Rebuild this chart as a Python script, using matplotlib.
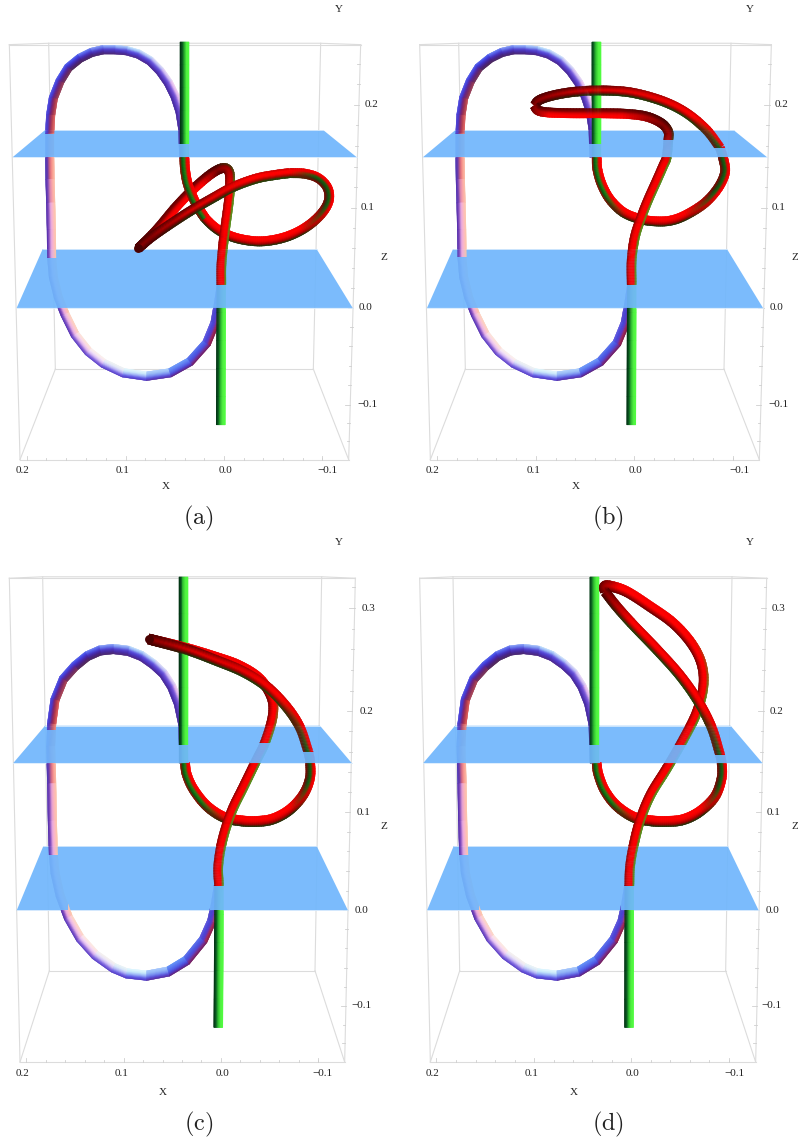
import numpy as np
import matplotlib
matplotlib.use('Agg')
import matplotlib.pyplot as plt
from matplotlib.collections import PolyCollection
from matplotlib.colors import to_rgb
from matplotlib.path import Path
from matplotlib.patches import Polygon

plt.rcParams['mathtext.fontset'] = 'cm'
plt.rcParams['font.family'] = ['Liberation Serif', 'DejaVu Serif']

# ---- traced curves, in the units of each panel's own axes ----
loop_ab_x = [551,548,540,525,505,480,450,415,380,345,310,275,240,205,180,160,152,149,149,150,152,154,155,160,175,195,225,265,310,370,440,510,570,620,645,655,664]
loop_ab_y = [465,380,330,285,245,210,180,160,150,147,147,155,172,200,240,290,340,395,460,530,600,680,763,820,880,930,990,1040,1075,1103,1113,1103,1070,1015,955,900,842]
loop_cd_x = [552,548,535,515,490,460,425,385,340,300,262,225,190,165,155,152,155,157,160,165,180,205,240,285,340,380,440,505,560,610,635,645,655]
loop_cd_y = [545,440,385,340,305,280,258,244,239,243,258,285,320,375,440,500,600,700,790,840,900,960,1015,1060,1095,1110,1116,1105,1075,1020,970,930,875]

a_bottom_x = [592,615,650,690,735,785,840,890,935,970,987,982,955,915,870]
a_bottom_y = [610,645,677,698,710,714,706,688,660,625,590,555,527,514,512]
a_return_x = [415,470,530,590,640,672,688,690,686,675,668,664,664]
a_return_y = [735,680,610,550,510,497,510,550,600,680,740,790,842]
a_descent_x = [553,555,562,575,592,615]
a_descent_y = [465,500,540,575,610,645]
a_arm_x = [870,830,770,700,640,570,500,450,415]
a_arm_y = [512,517,528,553,585,625,670,705,735]

b_bottom_x = [590,592,605,630,670,720,770,815,860,915,955,975,970,960]
b_bottom_y = [465,500,545,590,628,648,655,652,635,600,555,510,470,437]
b_arm_x = [960,920,860,790,700,620,540,470,420,403]
b_arm_y = [437,385,335,300,275,268,270,280,295,312]
b_return_x = [403,415,450,520,600,680,740,785,805,805,800,790,770,745,725,705,695,695]
b_return_y = [312,327,333,335,335,337,345,365,390,415,465,490,535,590,640,700,770,842]

c_bottom_x = [555,560,580,620,670,720,770,820,870,910,930,930,925]
c_bottom_y = [545,575,615,660,690,700,702,695,670,630,585,540,515]
c_arm_x = [925,900,860,800,730,650,560,450]
c_arm_y = [515,450,395,340,300,270,240,213]
c_return_x = [445,550,650,720,780,815,818,795,768,730,695,668,655,657]
c_return_y = [212,235,262,285,320,370,420,490,540,610,675,750,820,875]

d_bottom_x = [590,595,615,650,700,750,800,850,900,945,965,965,960]
d_bottom_y = [545,575,620,660,690,700,702,697,675,635,585,545,522]
d_arm_x = [960,935,895,840,770,700,650,615]
d_arm_y = [522,450,380,310,240,175,125,85]
d_return_x = [615,612,630,680,750,820,875,905,910,890,850,800,752,720,700,690,688]
d_return_y = [85,72,70,85,125,170,225,280,340,410,482,560,630,700,770,825,875]

ticks_ab_z = [-0.16,-0.1,0.0,0.1,0.2,0.26]
ticks_ab_y = [1360,1197,910,615,310,128]
ticks_cd_z = [-0.16,-0.1,0.0,0.1,0.2,0.3,0.33]
ticks_cd_y = [1348,1197,940,677,406,129,45]
tick_x_vals = [0.2,0.1,0.0,-0.1]
tick_x_ab = [80,377,672,967]
tick_x_cd = [78,372,662,955]

# ---- styles ----
BLUE = '#70B6FC'
GRID = '#dcdcdc'
LOOP_STYLE = [
 (0.00,['#f8d8f2','#d8b0f0','#7a58d8','#5a3cc0','#45289a']),
 (0.10,['#f8d8f2','#d8b0f0','#7a58d8','#5a3cc0','#45289a']),
 (0.18,['#d0f0ff','#98b8f8','#5a4fe0','#4a35c0','#50288a']),
 (0.27,['#5a6cf0','#4040e0','#4028b0','#45207a','#4a2a58']),
 (0.36,['#5048e0','#4838c8','#802068','#b03848','#e05858']),
 (0.43,['#4838b8','#6838a8','#d06078','#f89088','#fbb8a0']),
 (0.50,['#4a28a8','#8850c0','#e8a8e0','#fcb8c8','#fdc8a8']),
 (0.64,['#4a28a8','#8850c0','#e8a8e0','#fcb8c8','#fdc8a8']),
 (0.72,['#5a40c8','#9070e0','#e0c0f5','#f8e4f8','#fff0e8']),
 (0.80,['#4c34c0','#6060e8','#98b4f8','#c4e8fb','#e0f8ff']),
 (0.87,['#682068','#5036c0','#4858e8','#5070f0','#5888f8']),
 (0.93,['#801848','#a02858','#5c38c8','#4848d8','#6458e0']),
 (1.00,['#f07868','#e05868','#6838c0','#4040d0','#4838b0']),
]
DESC  = ['#a00000','#0a5a10','#1a8a15','#f00000','#ff0000']
BOT   = ['#0a3a0a','#a00000','#e80000','#ff0000','#f80000']
RIGHT = ['#ff0000','#e00000','#0a6a10','#283810','#800000']
TOP   = ['#c80000','#ff0000','#fa0000','#a00800','#0a4a0a']
ARM   = ['#5a0000','#a00000','#e80000','#8a0000','#0a3a0a']
TIP   = ['#4a0000','#680000','#880000','#680000','#400000']
RET   = ['#f80000','#ff0000','#e00000','#880000','#600000']
RETD  = ['#600000','#b00000','#ff0000','#ff0000','#f00000']
DOWN  = ['#880000','#e00000','#ff0000','#f80000','#30b020']
GREEN = ['#002a10','#0a5a20','#30c030','#50f040','#50ff40']

WIDTH = 28


def smooth(x, y, n=8):
    p = np.column_stack([x, y]).astype(float)
    p = np.vstack([2*p[0]-p[1], p, 2*p[-1]-p[-2]])
    out = []
    for i in range(1, len(p)-2):
        for t in np.linspace(0, 1, n, endpoint=False):
            out.append(0.5*((2*p[i]) + (-p[i-1]+p[i+1])*t + (2*p[i-1]-5*p[i]+4*p[i+1]-p[i+2])*t*t
                            + (-p[i-1]+3*p[i]-3*p[i+1]+p[i+2])*t**3))
    out.append(p[-2])
    return np.array(out)


def style_at(style, f):
    fr = [s[0] for s in style]
    j = int(np.clip(np.searchsorted(fr, f) - 1, 0, len(fr) - 2))
    a = (f - fr[j]) / max(fr[j+1] - fr[j], 1e-9)
    a = float(np.clip(a, 0, 1))
    c0 = np.array([to_rgb(c) for c in style[j][1]])
    c1 = np.array([to_rgb(c) for c in style[j+1][1]])
    return c0 * (1 - a) + c1 * a


def tube(ax, pts, style, clip=None, zorder=2, width=WIDTH, strips=10):
    d = np.gradient(pts, axis=0)
    d /= np.maximum(np.linalg.norm(d, axis=1, keepdims=True), 1e-9)
    nrm = np.column_stack([-d[:, 1], d[:, 0]])
    seg = np.linalg.norm(np.diff(pts, axis=0), axis=1)
    s = np.concatenate([[0], np.cumsum(seg)]) / seg.sum()
    ts = np.linspace(0.5, -0.5, strips + 1)
    polys, cols = [], []
    for i in range(len(pts) - 1):
        prof = style_at(style, 0.5 * (s[i] + s[i+1]))
        for k in range(strips):
            a0, a1 = pts[i] + nrm[i]*ts[k]*width, pts[i] + nrm[i]*ts[k+1]*width
            b0, b1 = pts[i+1] + nrm[i+1]*ts[k]*width, pts[i+1] + nrm[i+1]*ts[k+1]*width
            polys.append([a0, b0, b1, a1])
            tk = (k + 0.5) / strips * (len(prof) - 1)
            cols.append([np.interp(tk, range(len(prof)), prof[:, c]) for c in range(3)])
    pc = PolyCollection(polys, facecolors=cols, edgecolors=cols, linewidths=0.25, zorder=zorder)
    ax.add_collection(pc)
    if clip is not None:
        pc.set_clip_path(clip, ax.transData)
    else:
        pc.set_clip_on(False)


def straight(x0, y0, x1, y1):
    return np.column_stack([np.linspace(x0, x1, 6), np.linspace(y0, y1, 6)])


def hole_path(bands):
    v = [(-300, -300), (1600, -300), (1600, 1900), (-300, 1900), (-300, -300)]
    c = [Path.MOVETO, Path.LINETO, Path.LINETO, Path.LINETO, Path.CLOSEPOLY]
    for x0, x1, y0, y1 in bands:
        v += [(x0, y0), (x0, y1), (x1, y1), (x1, y0), (x0, y0)]
        c += [Path.MOVETO, Path.LINETO, Path.LINETO, Path.LINETO, Path.CLOSEPOLY]
    return Path(v, c)


def sty(*items):
    return [(f, p) for f, p in items]


fig = plt.figure(figsize=(7.98, 11.44), dpi=100)
W, H = 798.0, 1144.0
SCALE_X = 3.0
SCALE_AB = 1568 / 530
SCALE_CD = 1568 / 584


def panel(left, top, w, h, s):
    ax = fig.add_axes([left/W, 1-(top+h)/H, w/W, h/H])
    ax.set_xlim(0, w*SCALE_X)
    ax.set_ylim(h*s, 0)
    ax.axis('off')
    return ax


def frame(ax, dx, top, topb, bl, bbl, ybot, ybb, zv, zy, xt):
    L = dict(color=GRID, lw=0.8, zorder=1, clip_on=False)
    x0, x1, x2, x3 = 28+dx, top+dx, topb+dx, bl+dx
    xr = bbl
    ytop = zy[-1]
    ax.plot([x0, x1, x2, x3], [ytop+4, ytop, ytop, ytop+4], **L)
    ax.plot([x0, x3], [ytop+4, ytop+4], **L)
    fl, fr = xr[0]+dx, xr[1]+dx
    bk0, bk1 = xr[2]+dx, xr[3]+dx
    ax.plot([x0, fl], [ytop+4, ybot], **L)
    ax.plot([x3, fr], [ytop+4, ybot], **L)
    ax.plot([fl, fr], [ybot, ybot], **L)
    ax.plot([x1, bk0], [ytop, ybb], **L)
    ax.plot([x2, bk1], [ytop, ybb], **L)
    ax.plot([bk0, bk1], [ybb, ybb], **L)
    ax.plot([bk0, fl], [ybb, ybot], **L)
    ax.plot([bk1, fr], [ybb, ybot], **L)
    # z ticks along the right edge
    T = dict(color='#cfcfcf', lw=0.6, zorder=1, clip_on=False)
    for v in np.arange(-0.14, zv[-1], 0.02):
        y = np.interp(v, zv, zy)
        ex = x3 + (fr-x3)*(y-(ytop+4))/(ybot-(ytop+4))
        ln = 16 if abs(v*10-round(v*10)) < 1e-6 else 8
        ax.plot([ex-ln, ex], [y, y], **T)
    # x ticks along the bottom edge
    x_pos = np.array(xt) + dx
    for v in np.arange(-0.12, 0.21, 0.02):
        x = np.interp(-v, -np.array(tick_x_vals), x_pos)
        ln = 12 if abs(v*10-round(v*10)) < 1e-6 else 6
        ax.plot([x, x], [ybot, ybot-ln], **T)


def planes(ax, P1, P2):
    for P in (P1, P2):
        ax.add_patch(Polygon(P, closed=True, fc=BLUE, ec='none', alpha=0.92, zorder=5))
        ax.plot([P[2][0], P[3][0]], [P[2][1]]*2, color='#d8ebfd', lw=0.6, zorder=5)
        ax.plot([P[0][0], P[1][0]], [P[0][1]]*2, color='#d8ebfd', lw=0.6, zorder=5)


def labels(ax, xt, ztxt, Z, Y, X, lab, name, yrows):
    F = dict(ha='center', va='center', color='#222222', fontsize=8)
    for (x, s) in zip(xt, ['0.2', '0.1', '0.0', '\u22120.1']):
        ax.text(x, yrows, s, **F)
    for (x, y, s) in ztxt:
        ax.text(x, y, s, **F)
    ax.text(*Z, 'Z', **F)
    ax.text(*Y, 'Y', **F)
    ax.text(*X, 'X', **F)
    ax.text(*lab, r'$\mathrm{(' + name + r')}$', ha='center', va='center', fontsize=17.5, color='#222222')


def draw(ax, loop, greens, reds, bands, P1, P2, tip=None):
    clip = hole_path(bands)
    for cl, z in ((None, 3), (clip, 7)):
        tube(ax, loop, LOOP_STYLE, clip=cl, zorder=z, width=26)
        for g in greens:
            tube(ax, g, [(0, GREEN), (1, GREEN)], clip=cl, zorder=z, width=27)
        for pts, st in reds:
            tube(ax, pts, st, clip=cl, zorder=z)
    if tip is not None:
        ax.plot([tip[0]], [tip[1]], 'o', color='#4a0000', ms=6.4, mew=0, zorder=8, clip_on=False)
    planes(ax, P1, P2)


# ---- panel a ----
ax = panel(0, 0, 400, 530, SCALE_AB)
frame(ax, 0, 146, 962, 1082, (60, 1046, 166, 940), 1360, 1092, ticks_ab_z, ticks_ab_y, tick_x_ab)
P1 = [(135,385),(970,385),(1070,465),(38,465)]
P2 = [(128,737),(950,737),(1058,911),(50,911)]
loop = np.column_stack([loop_ab_x, loop_ab_y]).astype(float)
draw(ax, loop, [straight(554,125,554,465), straight(664,842,662,1257)],
     [(smooth(a_bottom_x, a_bottom_y), sty((0,BOT),(0.55,BOT),(0.72,RIGHT),(0.88,RIGHT),(1,TOP))),
      (smooth(a_return_x, a_return_y), sty((0,TIP),(0.12,RET),(0.38,RET),(0.47,TIP),(0.6,DOWN),(1,DOWN))),
      (smooth(a_descent_x, a_descent_y), sty((0,DESC),(1,DESC))),
      (smooth(a_arm_x, a_arm_y), sty((0,TOP),(0.25,TOP),(0.6,ARM),(0.9,TIP),(1,TIP)))],
     [(120,170,395,465),(530,572,425,465),(130,205,763,911),(630,682,842,911)], P1, P2, tip=(415,735))
labels(ax, [66,369,675,983], [(1113,310,'0.2'),(1103,615,'0.1'),(1096,910,'0.0'),(1102,1197,'\u22120.1')],
       (1153,763), (1016,27), (496,1438), (595,1533), 'a', 1392)

# ---- panel b ----
ax = panel(400, 0, 398, 530, SCALE_AB)
frame(ax, 31, 145, 962, 1083, (60, 1047, 165, 941), 1360, 1092, ticks_ab_z, ticks_ab_y, tick_x_ab)
P1 = [(166,385),(1001,385),(1101,465),(69,465)]
P2 = [(159,737),(981,737),(1089,911),(81,911)]
loop = np.column_stack([np.array(loop_ab_x)+31, loop_ab_y]).astype(float)
draw(ax, loop, [straight(588,125,588,465), straight(695,842,694,1257)],
     [(smooth(b_bottom_x, b_bottom_y), sty((0,DESC),(0.18,DESC),(0.32,BOT),(0.6,BOT),(0.78,RIGHT),(1,RIGHT))),
      (smooth(b_arm_x, b_arm_y), sty((0,RIGHT),(0.2,TOP),(0.7,ARM),(1,TIP))),
      (smooth(b_return_x, b_return_y), sty((0,TIP),(0.06,RET),(0.3,RET),(0.45,TIP),(0.58,DOWN),(1,DOWN)))],
     [(150,200,395,465),(560,606,425,465),(940,985,437,465),(780,825,415,465),(160,236,760,911),(660,712,842,911)], P1, P2)
labels(ax, [97,400,706,1017], [(1145,310,'0.2'),(1137,615,'0.1'),(1129,910,'0.0'),(1135,1197,'\u22120.1')],
       (1185,763), (1049,27), (527,1438), (625,1533), 'b', 1392)

# ---- panel c ----
ax = panel(0, 560, 400, 584, SCALE_CD)
frame(ax, 0, 128, 965, 1066, (60, 1034, 148, 945), 1348, 1103, ticks_cd_z, ticks_cd_y, tick_x_cd)
P1 = [(135,445),(960,445),(1055,545),(40,545)]
P2 = [(130,768),(950,768),(1044,941),(50,941)]
loop = np.column_stack([loop_cd_x, loop_cd_y]).astype(float)
draw(ax, loop, [straight(550,45,550,545), straight(657,875,655,1255)],
     [(smooth(c_bottom_x, c_bottom_y), sty((0,DESC),(0.2,DESC),(0.35,BOT),(0.7,BOT),(0.85,RIGHT),(1,RIGHT))),
      (smooth(c_return_x, c_return_y), sty((0,TIP),(0.1,RETD),(0.4,RETD),(0.55,DOWN),(1,DOWN))),
      (smooth(c_arm_x, c_arm_y), sty((0,RIGHT),(0.3,TOP),(0.75,ARM),(1,TIP)))],
     [(125,172,457,545),(530,568,497,545),(900,945,515,545),(750,815,490,545),(130,205,792,941),(630,672,875,941)], P1, P2, tip=(447,212))
labels(ax, [66,365,667,968], [(1105,129,'0.3'),(1098,406,'0.2'),(1090,677,'0.1'),(1085,940,'0.0'),(1083,1197,'\u22120.1')],
       (1153,715), (1016,-46), (488,1430), (595,1515), 'c', 1378)

# ---- panel d ----
ax = panel(400, 560, 398, 584, SCALE_CD)
frame(ax, 31, 128, 965, 1069, (60, 1036, 148, 946), 1348, 1103, ticks_cd_z, ticks_cd_y, tick_x_cd)
P1 = [(165,445),(992,445),(1087,545),(70,545)]
P2 = [(161,768),(983,768),(1076,941),(81,941)]
loop = np.column_stack([np.array(loop_cd_x)+31, loop_cd_y]).astype(float)
draw(ax, loop, [straight(582,45,582,545), straight(688,875,687,1255)],
     [(smooth(d_bottom_x, d_bottom_y), sty((0,DESC),(0.2,DESC),(0.35,BOT),(0.7,BOT),(0.85,RIGHT),(1,RIGHT))),
      (smooth(d_return_x, d_return_y), sty((0,TIP),(0.06,RETD),(0.3,RETD),(0.48,DOWN),(1,DOWN))),
      (smooth(d_arm_x, d_arm_y), sty((0,RIGHT),(0.25,TOP),(0.8,TOP),(1,TIP)))],
     [(155,202,457,545),(562,600,497,545),(940,980,523,545),(790,868,497,545),(160,236,792,941),(662,704,875,941)], P1, P2)
labels(ax, [96,396,698,1003], [(1137,129,'0.3'),(1130,406,'0.2'),(1122,677,'0.1'),(1117,940,'0.0'),(1115,1197,'\u22120.1')],
       (1185,715), (1050,-46), (520,1430), (625,1515), 'd', 1378)

fig.savefig('out.png', dpi=100)
